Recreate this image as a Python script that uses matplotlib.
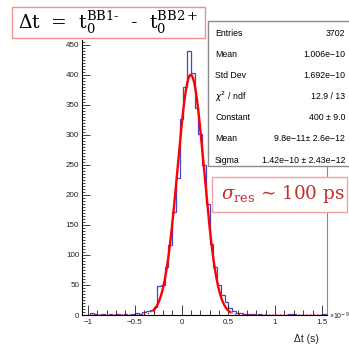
import numpy as np
import matplotlib
matplotlib.use('Agg')
import matplotlib.pyplot as plt
from matplotlib.patches import Rectangle
from matplotlib.ticker import MultipleLocator

# histogram of dt (units of 1e-9 s), 0.04 wide bins
edges = np.round(np.arange(-1.06, 1.5401, 0.04), 2)
counts = [0, 0, 3, 1, 0, 2, 0, 1, 0, 1, 0, 1, 0, 1, 3, 2, 5, 6, 9, 14,
          48, 50, 80, 117, 172, 228, 327, 380, 440, 403, 344, 302,
          250, 185, 118, 80, 50, 33, 22, 12, 7, 4, 3, 1, 2, 1, 0, 1,
          0, 0, 0, 0, 0, 0, 0, 1, 2, 0, 0, 0, 0, 0, 0, 0, 2]

# gaussian fit parameters
fit_const = 400.0
fit_mean = 0.098
fit_sigma = 0.142
fit_range = (-0.30, 0.52)

stat_labels = ['Entries', 'Mean', 'Std Dev', r'$\chi^2$ / ndf', 'Constant', 'Mean', 'Sigma']
stat_values = ['3702', '1.006e\u221210', '1.692e\u221210', '12.9 / 13', '400 \u00b1 9.0',
               '9.8e\u221211\u00b1 2.6e\u221212', '1.42e\u221210 \u00b1 2.43e\u221212']

W, H = 349, 347
plt.rcParams['mathtext.fontset'] = 'dejavusans'
fig = plt.figure(figsize=(W / 100, H / 100), dpi=100)
ax = fig.add_axes([82 / W, 1 - 315 / H, (327 - 82) / W, (315 - 40) / H])

ax.stairs(counts, edges, color='#4444cc', lw=0.9)

def gaus(x):
    return fit_const * np.exp(-0.5 * ((x - fit_mean) / fit_sigma) ** 2)

xa = np.linspace(-1.0, 1.5, 600)
ax.plot(xa, gaus(xa), color='red', lw=0.9, ls=(0, (1, 2)))
xs = np.linspace(fit_range[0], fit_range[1], 300)
ax.plot(xs, gaus(xs), color='red', lw=1.7)

ax.set_xlim(-1.065, 1.555)
ax.set_ylim(0, 458)
ax.xaxis.set_major_locator(MultipleLocator(0.5))
ax.xaxis.set_minor_locator(MultipleLocator(0.1))
ax.yaxis.set_major_locator(MultipleLocator(50))
ax.yaxis.set_minor_locator(MultipleLocator(5))
ax.set_xticks([-1, -0.5, 0, 0.5, 1, 1.5])
ax.set_xticklabels(['\u22121', '\u22120.5', '0', '0.5', '1', '1.5'])
ax.tick_params(which='both', direction='in', labelsize=5.8, colors='#222222', width=0.6)
ax.tick_params(which='major', length=7, pad=3)
ax.tick_params(which='minor', length=3.5)
ax.tick_params(axis='y', which='minor', length=2.5)
ax.tick_params(axis='y', which='major', length=6, pad=2)
for lab in ax.get_xticklabels() + ax.get_yticklabels():
    lab.set_family('Liberation Sans')
ax.spines['top'].set_visible(False)
ax.spines['right'].set_color('#888888')
for s in ['left', 'bottom', 'right']:
    ax.spines[s].set_linewidth(0.8)

fig.text(329 / W, 1 - 316 / H, '\u00d710$^{-9}$', fontsize=5, family='Liberation Sans',
         va='center', ha='left', color='#222222')
fig.text(306 / W, 1 - 339 / H, '\u0394t (s)', fontsize=7.5, family='Liberation Sans',
         va='center', ha='center', color='#222222')

def fbox(x0, y0, x1, y1, ec, lw=1.0):
    fig.patches.append(Rectangle((x0 / W, 1 - y1 / H), (x1 - x0) / W, (y1 - y0) / H,
                                 transform=fig.transFigure, fc='white', ec=ec, lw=lw, zorder=5))

# stats box
fbox(208, 21, 352, 166, '#8c8c8c')
for i, (lab, val) in enumerate(zip(stat_labels, stat_values)):
    y = 33 + i * 21.2
    fig.text(215 / W, 1 - y / H, lab, fontsize=6.3, family='Liberation Sans', va='center', ha='left', zorder=6)
    fig.text(345 / W, 1 - y / H, val, fontsize=6.3, family='Liberation Sans', va='center', ha='right', zorder=6)

# title box
fbox(12, 7, 205, 38, '#f09090')
fig.text(108 / W, 1 - 23 / H,
         r'$\Delta$t  =  t$_0^{\mathrm{BB1\text{-}}}$  -  t$_0^{\mathrm{BB2+}}$',
         fontsize=13.5, family='DejaVu Serif', va='center', ha='center', zorder=6,
         math_fontfamily='dejavuserif')

# resolution box
fbox(212, 177, 347, 212, '#f4a0a0')
fig.text(283 / W, 1 - 194 / H, r'$\sigma_{\mathrm{res}}$ ' + '\u223c 100 ps',
         fontsize=13.2, family='DejaVu Serif', va='center', ha='center', color='#c0302a', zorder=6,
         math_fontfamily='dejavuserif')

fig.savefig('out.png', dpi=100)
